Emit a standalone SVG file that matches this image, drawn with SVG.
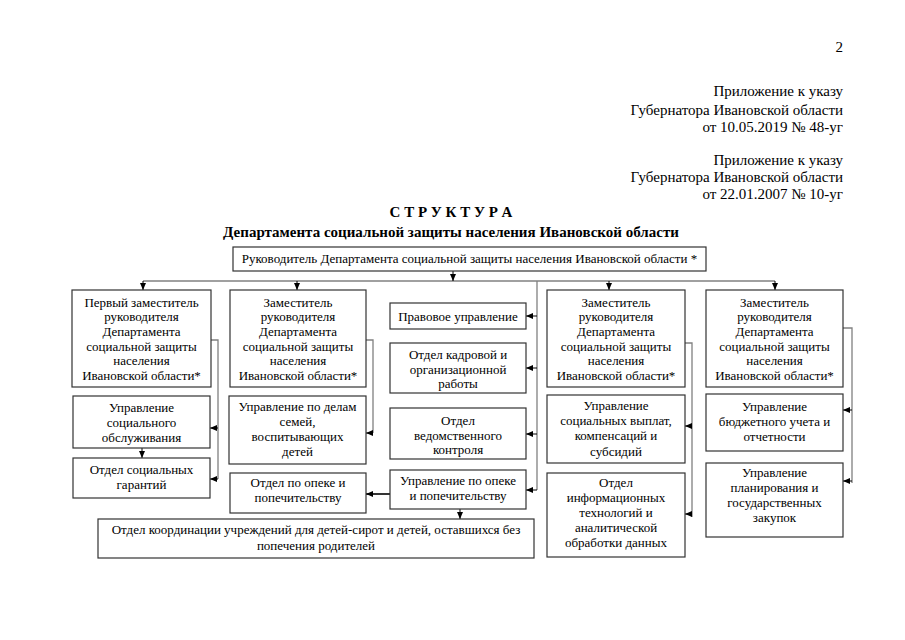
<svg xmlns="http://www.w3.org/2000/svg" width="905" height="640" viewBox="0 0 905 640">
<defs>
<marker id="ah" markerUnits="userSpaceOnUse" markerWidth="7" markerHeight="7" viewBox="0 0 7 7" refX="7" refY="3.5" orient="auto">
<path d="M0,0.5 L7,3.5 L0,6.5 Z" fill="#000"/>
</marker>
</defs>
<style>
text{font-family:"Liberation Serif","Times New Roman",serif;fill:#000}
.hd{font-size:15px;text-anchor:end}
.tt{font-size:15px;font-weight:bold;text-anchor:middle}
.bx rect{fill:#fff;stroke:#333;stroke-width:1.2}
.bx text{font-size:13px;text-anchor:middle}
.c{fill:none;stroke:#808080;stroke-width:1.3}
.a{fill:none;stroke:#000;stroke-width:1;marker-end:url(#ah)}
.ab{fill:none;stroke:#000;stroke-width:1.6;marker-end:url(#ah)}
</style>
<rect width="905" height="640" fill="#fff"/>
<g id="header">
<text class="hd" x="843" y="52">2</text>
<text class="hd" x="843" y="96">Приложение к указу</text>
<text class="hd" x="843" y="115">Губернатора Ивановской области</text>
<text class="hd" x="843" y="132">от 10.05.2019 № 48-уг</text>
<text class="hd" x="843" y="165">Приложение к указу</text>
<text class="hd" x="843" y="182">Губернатора Ивановской области</text>
<text class="hd" x="843" y="198.5">от 22.01.2007 № 10-уг</text>
<text class="tt" x="451" y="217">С Т Р У К Т У Р А</text>
<text class="tt" x="451" y="237">Департамента социальной защиты населения Ивановской области</text>
</g>
<g id="connectors">
<path class="c" d="M143,281 H775"/>
<path class="c" d="M537,281 V490"/>
<path class="c" d="M211,340 H218 V479"/>
<path class="c" d="M366,340 H373 V433"/>
<path class="c" d="M685,343 H692 V517"/>
<path class="c" d="M843,328 H852 V483"/>
<path class="a" d="M453,271 V281"/>
<path class="a" d="M143,281 V290"/>
<path class="a" d="M297,281 V290"/>
<path class="a" d="M609,281 V290"/>
<path class="a" d="M775,281 V290"/>
<path class="a" d="M537,316 H526"/>
<path class="a" d="M537,368 H526"/>
<path class="a" d="M537,434 H526"/>
<path class="a" d="M537,490 H526"/>
<path class="a" d="M218,428 H210"/>
<path class="a" d="M218,479 H210"/>
<path class="a" d="M142,448 V458"/>
<path class="a" d="M373,433 H366"/>
<path class="ab" d="M390,494 H366"/>
<path class="a" d="M460,509 V519"/>
<path class="a" d="M692,426 H685"/>
<path class="a" d="M692,514 H685"/>
<path class="a" d="M852,410 H843"/>
<path class="a" d="M852,481 H843"/>
</g>
<g id="head" class="bx">
<rect x="233" y="247" width="473" height="24"/>
<text x="469.5" y="263">Руководитель Департамента социальной защиты населения Ивановской области *</text>
</g>
<g id="dep1" class="bx">
<rect x="72" y="290" width="139" height="97"/>
<text x="141.5" y="306.5">Первый заместитель</text>
<text x="141.5" y="321.2">руководителя</text>
<text x="141.5" y="335.9">Департамента</text>
<text x="141.5" y="350.6">социальной защиты</text>
<text x="141.5" y="365.3">населения</text>
<text x="141.5" y="380">Ивановской области*</text>
</g>
<g id="dep2" class="bx">
<rect x="230" y="290" width="136" height="97"/>
<text x="298" y="306.5">Заместитель</text>
<text x="298" y="321.2">руководителя</text>
<text x="298" y="335.9">Департамента</text>
<text x="298" y="350.6">социальной защиты</text>
<text x="298" y="365.3">населения</text>
<text x="298" y="380">Ивановской области*</text>
</g>
<g id="dep3" class="bx">
<rect x="547" y="290" width="138" height="97"/>
<text x="616" y="306.5">Заместитель</text>
<text x="616" y="321.2">руководителя</text>
<text x="616" y="335.9">Департамента</text>
<text x="616" y="350.6">социальной защиты</text>
<text x="616" y="365.3">населения</text>
<text x="616" y="380">Ивановской области*</text>
</g>
<g id="dep4" class="bx">
<rect x="706" y="290" width="137" height="97"/>
<text x="774.5" y="306.5">Заместитель</text>
<text x="774.5" y="321.2">руководителя</text>
<text x="774.5" y="335.9">Департамента</text>
<text x="774.5" y="350.6">социальной защиты</text>
<text x="774.5" y="365.3">населения</text>
<text x="774.5" y="380">Ивановской области*</text>
</g>
<g id="legal" class="bx">
<rect x="390" y="303" width="136" height="26"/>
<text x="458" y="320.5">Правовое управление</text>
</g>
<g id="hr" class="bx">
<rect x="390" y="343" width="136" height="50"/>
<text x="458" y="359">Отдел кадровой и</text>
<text x="458" y="373.5">организационной</text>
<text x="458" y="388">работы</text>
</g>
<g id="control" class="bx">
<rect x="390" y="408" width="136" height="51"/>
<text x="458" y="425">Отдел</text>
<text x="458" y="439.5">ведомственного</text>
<text x="458" y="454">контроля</text>
</g>
<g id="guardianship" class="bx">
<rect x="390" y="470" width="136" height="39"/>
<text x="458" y="485">Управление по опеке</text>
<text x="458" y="500">и попечительству</text>
</g>
<g id="socserv" class="bx">
<rect x="73" y="396" width="137" height="52"/>
<text x="141.5" y="411.5">Управление</text>
<text x="141.5" y="426.5">социального</text>
<text x="141.5" y="441.5">обслуживания</text>
</g>
<g id="socguar" class="bx">
<rect x="73" y="458" width="137" height="40"/>
<text x="141.5" y="473.5">Отдел социальных</text>
<text x="141.5" y="489">гарантий</text>
</g>
<g id="families" class="bx">
<rect x="229" y="396" width="137" height="68"/>
<text x="297.5" y="410.5">Управление по делам</text>
<text x="297.5" y="425.5">семей,</text>
<text x="297.5" y="440.5">воспитывающих</text>
<text x="297.5" y="455.5">детей</text>
</g>
<g id="guarddept" class="bx">
<rect x="230" y="473" width="136" height="40"/>
<text x="298" y="487">Отдел по опеке и</text>
<text x="298" y="502">попечительству</text>
</g>
<g id="orphans" class="bx">
<rect x="98" y="519" width="436" height="39"/>
<text x="316" y="534">Отдел координации учреждений для детей-сирот и детей, оставшихся без</text>
<text x="316" y="549.5">попечения родителей</text>
</g>
<g id="payments" class="bx">
<rect x="547" y="395" width="138" height="68"/>
<text x="616" y="410">Управление</text>
<text x="616" y="425">социальных выплат,</text>
<text x="616" y="440">компенсаций и</text>
<text x="616" y="455.5">субсидий</text>
</g>
<g id="it" class="bx">
<rect x="547" y="473" width="138" height="84"/>
<text x="616" y="486.5">Отдел</text>
<text x="616" y="501.5">информационных</text>
<text x="616" y="516.5">технологий и</text>
<text x="616" y="531.5">аналитической</text>
<text x="616" y="547">обработки данных</text>
</g>
<g id="budget" class="bx">
<rect x="706" y="394" width="137" height="57"/>
<text x="774.5" y="410.5">Управление</text>
<text x="774.5" y="425.5">бюджетного учета и</text>
<text x="774.5" y="440.5">отчетности</text>
</g>
<g id="planning" class="bx">
<rect x="706" y="463" width="137" height="74"/>
<text x="774.5" y="476.5">Управление</text>
<text x="774.5" y="491.5">планирования и</text>
<text x="774.5" y="507">государственных</text>
<text x="774.5" y="522">закупок</text>
</g>
</svg>
